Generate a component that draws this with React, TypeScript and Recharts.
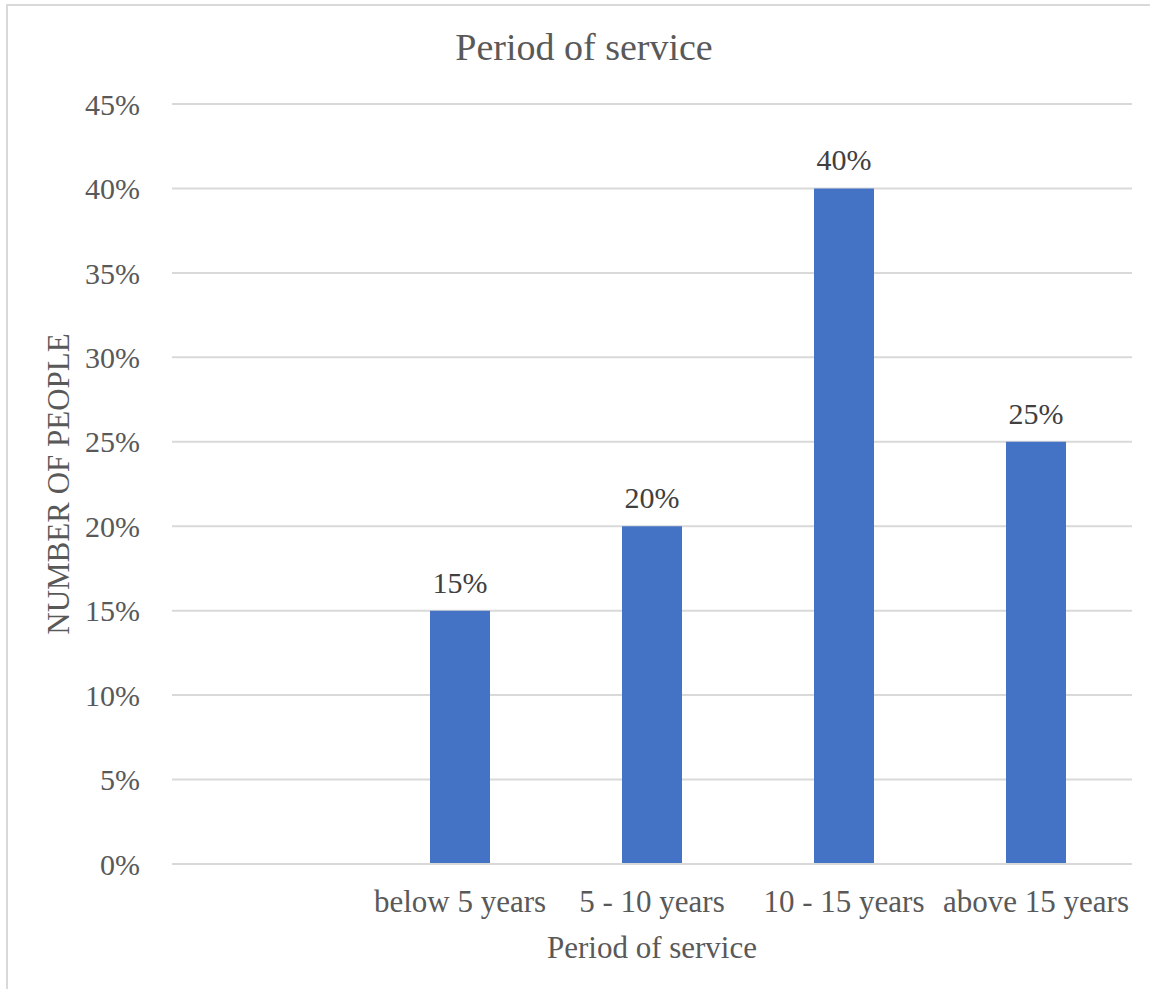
import React from 'react'
import { BarChart, Bar, XAxis, YAxis, CartesianGrid, LabelList } from 'recharts'

// chart values
const categories = ['', 'below 5 years', '5 - 10 years', '10 - 15 years', 'above 15 years']
const shares: (number | null)[] = [null, 15, 20, 40, 25]
const yTicks = [0, 5, 10, 15, 20, 25, 30, 35, 40, 45]

const data = categories.map((name, i) => ({ name, value: shares[i] }))

const FONT = '"Liberation Serif", "Times New Roman", serif'
const TEXT = '#595959'
const GRID = '#d9d9d9'

const YTitle = (props: any) => {
  const vb = props.viewBox || {}
  const cx = 58
  const cy = vb.y + vb.height / 2
  return (
    <text
      x={cx}
      y={cy}
      transform={`rotate(-90 ${cx} ${cy})`}
      textAnchor="middle"
      dominantBaseline="central"
      fill={TEXT}
      fontSize={31}
      fontFamily={FONT}
    >
      NUMBER OF PEOPLE
    </text>
  )
}

export default function App() {
  return (
    <div style={{ position: 'absolute', left: 0, top: 0, width: 1150, height: 989, background: '#fff', fontFamily: FONT }}>
      <div
        style={{
          position: 'absolute',
          left: 6,
          top: 4,
          right: -2,
          bottom: -2,
          borderLeft: `2px solid ${GRID}`,
          borderTop: `2px solid ${GRID}`,
        }}
      />
      <div
        style={{
          position: 'absolute',
          left: 384,
          width: 400,
          top: 28,
          textAlign: 'center',
          fontSize: 38,
          lineHeight: '38px',
          color: TEXT,
        }}
      >
        Period of service
      </div>
      <BarChart
        width={1150}
        height={989}
        data={data}
        margin={{ top: 104, right: 18, left: 0, bottom: 0 }}
        style={{ position: 'absolute', left: 0, top: 0, fontFamily: FONT }}
      >
        <CartesianGrid vertical={false} stroke={GRID} strokeWidth={2} />
        <XAxis
          dataKey="name"
          height={125}
          tickLine={false}
          tickSize={0}
          tickMargin={26}
          axisLine={{ stroke: GRID, strokeWidth: 2 }}
          interval={0}
          tick={{ fill: TEXT, fontSize: 31, fontFamily: FONT }}
          label={{
            value: 'Period of service',
            position: 'insideBottom',
            offset: 31,
            fill: TEXT,
            fontSize: 31,
            fontFamily: FONT,
          }}
        />
        <YAxis
          width={172}
          domain={[0, 45]}
          ticks={yTicks}
          tickFormatter={(v: number) => `${v}%`}
          tickLine={false}
          tickSize={0}
          tickMargin={32}
          axisLine={false}
          tick={{ fill: TEXT, fontSize: 30, fontFamily: FONT }}
          label={<YTitle />}
        />
        <Bar dataKey="value" fill="#4472c4" barSize={60} isAnimationActive={false}>
          <LabelList
            dataKey="value"
            position="top"
            offset={18}
            formatter={(v: any) => (v == null ? '' : `${v}%`)}
            fill="#404040"
            fontSize={30}
            fontFamily={FONT}
          />
        </Bar>
      </BarChart>
    </div>
  )
}
